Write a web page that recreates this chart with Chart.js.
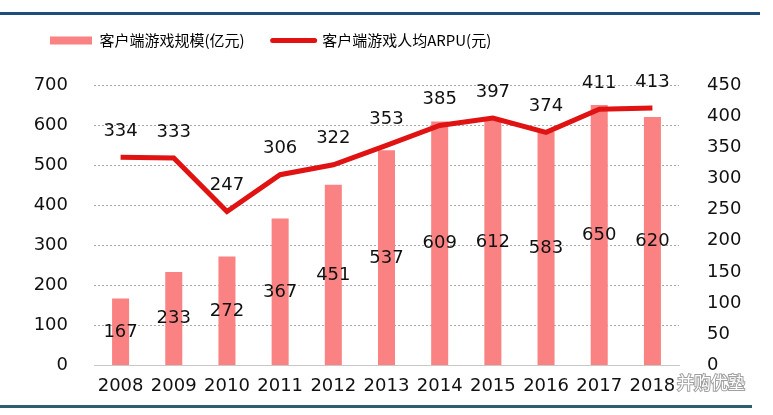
<!DOCTYPE html>
<html>
<head>
<meta charset="utf-8">
<script src="https://cdn.jsdelivr.net/npm/chart.js@4/dist/chart.umd.min.js"></script>
<style>
  html, body { margin: 0; padding: 0; background: #fff; }
  #wrap { width: 773px; height: 415px; }
</style>
</head>
<body>
<div id="wrap"><canvas id="gameChart" width="773" height="415"></canvas></div>
<script>
// 客户端游戏规模 / 人均ARPU
const years = ['2008', '2009', '2010', '2011', '2012', '2013', '2014', '2015', '2016', '2017', '2018'];
const marketSize = [167, 233, 272, 367, 451, 537, 609, 612, 583, 650, 620];
const arpu = [334, 333, 247, 306, 322, 353, 385, 397, 374, 411, 413];
const leftTicks = [0, 100, 200, 300, 400, 500, 600, 700];
const rightTicks = [0, 50, 100, 150, 200, 250, 300, 350, 400, 450];

const sizeLabel = '客户端游戏规模(亿元)';
const arpuLabel = '客户端游戏人均ARPU(元)';

const BAR_COLOR = '#fa8282';
const LINE_COLOR = '#e01212';
const NUM_FONT = '18px "DejaVu Sans", sans-serif';

// 범례 아래 여백 늘리기
const legendGapPlugin = {
    id: 'legendGap',
    beforeLayout(chart) {
        const lg = chart.legend;
        if (!lg || lg._gapPatched) return;
        const origFit = lg.fit;
        lg.fit = function() {
            origFit.call(this);
            this.height += 27;
        };
        lg._gapPatched = true;
    }
};

// 数值标签 + 边框线 + 水印
const decoPlugin = {
    id: 'deco',
    beforeDraw(chart) {
        const c = chart.ctx;
        c.save();
        c.fillStyle = '#fff';
        c.fillRect(0, 0, chart.width, chart.height);
        c.fillStyle = '#1f4e79';
        c.fillRect(0, 12, 760, 3);
        c.fillStyle = '#2c5f6c';
        c.fillRect(0, 405, 752, 3);
        c.restore();
    },
    afterDatasetsDraw(chart) {
        const c = chart.ctx;
        c.save();
        c.font = NUM_FONT;
        c.fillStyle = '#111';
        c.textAlign = 'center';
        c.textBaseline = 'middle';
        const y1 = chart.scales.y;
        chart.getDatasetMeta(0).data.forEach((bar, i) => {
            const mid = y1.getPixelForValue(marketSize[i] / 2);
            c.fillText(String(marketSize[i]), bar.x, mid);
        });
        chart.getDatasetMeta(1).data.forEach((pt, i) => {
            c.fillText(String(arpu[i]), pt.x, pt.y - 26);
        });
        // 水印
        c.font = '17px "Noto Sans CJK SC", sans-serif';
        c.textAlign = 'left';
        c.lineWidth = 2;
        c.strokeStyle = 'rgba(120,120,120,0.7)';
        c.strokeText('并购优塾', 677, 383);
        c.fillStyle = '#fff';
        c.fillText('并购优塾', 677, 383);
        c.restore();
    }
};

const ctx = document.getElementById('gameChart');
new Chart(ctx, {
    type: 'bar',
    data: {
        labels: years,
        datasets: [
            {
                label: sizeLabel,
                data: marketSize,
                backgroundColor: BAR_COLOR,
                yAxisID: 'y',
                barPercentage: 0.32,
                categoryPercentage: 1,
                order: 2
            },
            {
                type: 'line',
                label: arpuLabel,
                data: arpu,
                borderColor: LINE_COLOR,
                backgroundColor: LINE_COLOR,
                borderWidth: 5,
                pointRadius: 0,
                tension: 0,
                yAxisID: 'y1',
                order: 1
            }
        ]
    },
    options: {
        responsive: false,
        animation: false,
        layout: { padding: { top: 5, left: 22, right: 0, bottom: 16 } },
        plugins: {
            tooltip: { enabled: false },
            legend: {
                display: true,
                align: 'start',
                labels: {
                    usePointStyle: true,
                    pointStyleWidth: 42,
                    boxWidth: 42,
                    boxHeight: 8,
                    padding: 28,
                    color: '#222',
                    font: { family: '"Noto Sans CJK SC", sans-serif', size: 15 },
                    generateLabels: () => [
                        { text: sizeLabel, pointStyle: 'rect', fillStyle: BAR_COLOR, strokeStyle: BAR_COLOR, lineWidth: 0, datasetIndex: 0 },
                        { text: arpuLabel, pointStyle: 'line', fillStyle: LINE_COLOR, strokeStyle: LINE_COLOR, lineWidth: 5, lineCap: 'round', datasetIndex: 1 }
                    ]
                }
            }
        },
        scales: {
            x: {
                grid: { display: false },
                border: { display: true, color: '#c8c8c8', width: 1 },
                ticks: { color: '#111', font: { family: '"DejaVu Sans", sans-serif', size: 18 }, padding: 2, maxRotation: 0, autoSkip: false }
            },
            y: {
                position: 'left',
                min: 0,
                max: 700,
                afterBuildTicks: axis => { axis.ticks = leftTicks.map(v => ({ value: v })); },
                afterFit: axis => { axis.width = 72; },
                grid: { color: '#a8a8a8', lineWidth: 1, drawTicks: false },
                border: { display: false, dash: [2, 2] },
                ticks: { color: '#111', font: { family: '"DejaVu Sans", sans-serif', size: 18 }, padding: 26 }
            },
            y1: {
                position: 'right',
                min: 0,
                max: 450,
                afterBuildTicks: axis => { axis.ticks = rightTicks.map(v => ({ value: v })); },
                afterFit: axis => { axis.width = 94; },
                grid: { display: false },
                border: { display: false },
                ticks: { color: '#111', font: { family: '"DejaVu Sans", sans-serif', size: 18 }, padding: 20 }
            }
        }
    },
    plugins: [legendGapPlugin, decoPlugin]
});
</script>
</body>
</html>
